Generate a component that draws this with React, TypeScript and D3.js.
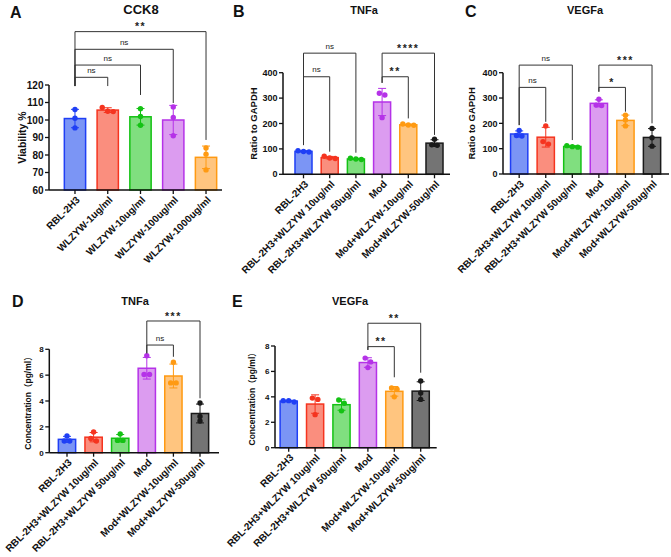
import * as d3 from "d3";

const FONT = "'Liberation Sans', Arial, 'Noto Sans CJK SC', sans-serif";

// group names
const cck8Groups = ["RBL-2H3", "WLZYW-1ug/ml", "WLZYW-10ug/ml", "WLZYW-100ug/ml", "WLZYW-1000ug/ml"];
const treatGroups = [
  "RBL-2H3",
  "RBL-2H3+WLZYW 10ug/ml",
  "RBL-2H3+WLZYW 50ug/ml",
  "Mod",
  "Mod+WLZYW-10ug/ml",
  "Mod+WLZYW-50ug/ml",
];

// replicates (n = 3) per group
const cck8Values = [[106, 101, 95.5], [105, 107.2, 104.8], [106.5, 102, 97], [107.5, 101.5, 91], [84, 80.5, 71.5]];
const tnfaRatio = [[88, 93, 90], [64, 71, 62], [60, 63, 58], [319, 312, 223], [198, 194, 193], [138, 116, 114]];
const vegfaRatio = [[172, 152, 150], [190, 118, 128], [112, 108, 106], [295, 272, 270], [232, 213, 190], [180, 143, 110]];
const tnfaConc = [[1.3, 0.9, 0.9], [1.6, 1.1, 0.9], [1.45, 0.95, 0.95], [7.5, 6.05, 6.05], [7.0, 5.4, 5.4], [3.85, 2.8, 2.45]];
const vegfaConc = [[3.6, 3.7, 3.7], [3.9, 3.8, 2.6], [3.75, 3.5, 2.9], [7.05, 6.75, 6.3], [4.7, 4.6, 4.0], [5.25, 4.3, 3.8]];

// significance brackets: groups a-b, level + leg ends in data units
type Bracket = { a: number; b: number; level: number; label: string; legA: number; legB: number };
const cck8Brackets: Bracket[] = [
  { a: 0, b: 1, level: 124.4, label: "ns", legA: 119.4, legB: 119.4 },
  { a: 0, b: 2, level: 131.4, label: "ns", legA: 119.4, legB: 114.3 },
  { a: 0, b: 3, level: 140.4, label: "ns", legA: 119.4, legB: 109.7 },
  { a: 0, b: 4, level: 150.5, label: "**", legA: 119.4, legB: 88.6 },
];
const tnfaRatioBrackets: Bracket[] = [
  { a: 0, b: 1, level: 384, label: "ns", legA: 115, legB: 89 },
  { a: 0, b: 2, level: 477, label: "ns", legA: 115, legB: 85 },
  { a: 3, b: 4, level: 384, label: "**", legA: 360, legB: 220 },
  { a: 3, b: 5, level: 477, label: "****", legA: 360, legB: 155 },
];
const vegfaRatioBrackets: Bracket[] = [
  { a: 0, b: 1, level: 342, label: "ns", legA: 193, legB: 206 },
  { a: 0, b: 2, level: 430, label: "ns", legA: 193, legB: 134 },
  { a: 3, b: 4, level: 342, label: "*", legA: 325, legB: 246 },
  { a: 3, b: 5, level: 430, label: "***", legA: 325, legB: 200 },
];
const tnfaConcBrackets: Bracket[] = [
  { a: 3, b: 4, level: 8.33, label: "ns", legA: 7.69, legB: 7.42 },
  { a: 3, b: 5, level: 10.19, label: "***", legA: 7.69, legB: 4.21 },
];
const vegfaConcBrackets: Bracket[] = [
  { a: 3, b: 4, level: 7.95, label: "**", legA: 7.69, legB: 5.54 },
  { a: 3, b: 5, level: 9.79, label: "**", legA: 7.69, legB: 5.9 },
];

const strokeColors = ["#1f3ff5", "#f5341f", "#14c214", "#b532e8", "#ff9a12", "#1a1a1a"];
const fillColors = ["#7b95f5", "#fa8e7e", "#80df7f", "#dc9cf0", "#ffc57f", "#747474"];

type PanelCfg = {
  letter: string; letterX: number; letterY: number;
  title: string; titleX: number; titleY: number; titleSize: number;
  x0: number; x1: number; bandStart: number; bandEnd: number;
  yTop: number; yBottom: number; domain: [number, number]; tickCount: number;
  yLabel: string; yLabelOffset: number; yLabelSize: number; tickSize: number;
  groups: string[]; values: number[][]; brackets: Bracket[];
};

const panels: PanelCfg[] = [
  {
    letter: "A", letterX: 10, letterY: 18, title: "CCK8", titleX: 141, titleY: 13.5, titleSize: 13,
    x0: 49, x1: 222, bandStart: 58.6, bandEnd: 222.4, yTop: 85, yBottom: 190, domain: [60, 120], tickCount: 6,
    yLabel: "Viability %", yLabelOffset: 27, yLabelSize: 10.5, tickSize: 10,
    groups: cck8Groups, values: cck8Values, brackets: cck8Brackets,
  },
  {
    letter: "B", letterX: 233, letterY: 17, title: "TNFa", titleX: 364, titleY: 14, titleSize: 11,
    x0: 283, x1: 450, bandStart: 290.4, bandEnd: 447.6, yTop: 72.7, yBottom: 174.3, domain: [0, 400], tickCount: 4,
    yLabel: "Ratio to GAPDH", yLabelOffset: 29.7, yLabelSize: 9.5, tickSize: 9,
    groups: treatGroups, values: tnfaRatio, brackets: tnfaRatioBrackets,
  },
  {
    letter: "C", letterX: 465, letterY: 17, title: "VEGFa", titleX: 585, titleY: 14, titleSize: 11,
    x0: 503, x1: 669, bandStart: 505.9, bandEnd: 665.3, yTop: 72.7, yBottom: 174, domain: [0, 400], tickCount: 4,
    yLabel: "Ratio to GAPDH", yLabelOffset: 31.3, yLabelSize: 9.5, tickSize: 9,
    groups: treatGroups, values: vegfaRatio, brackets: vegfaRatioBrackets,
  },
  {
    letter: "D", letterX: 12, letterY: 307, title: "TNFa", titleX: 135, titleY: 305, titleSize: 11,
    x0: 49.3, x1: 219, bandStart: 53.7, bandEnd: 213.3, yTop: 349.3, yBottom: 452.7, domain: [0, 8], tickCount: 4,
    yLabel: "Concentration（pg/ml）", yLabelOffset: 21, yLabelSize: 8.5, tickSize: 8,
    groups: treatGroups, values: tnfaConc, brackets: tnfaConcBrackets,
  },
  {
    letter: "E", letterX: 232, letterY: 307, title: "VEGFa", titleX: 350, titleY: 305, titleSize: 11,
    x0: 275, x1: 436.7, bandStart: 275.5, bandEnd: 433.9, yTop: 346, yBottom: 447.7, domain: [0, 8], tickCount: 4,
    yLabel: "Concentration（pg/ml）", yLabelOffset: 23.3, yLabelSize: 8.5, tickSize: 8,
    groups: treatGroups, values: vegfaConc, brackets: vegfaConcBrackets,
  },
];

// spread overlapping replicate dots sideways, prism style
function dotOffsets(py: number[]): number[] {
  const order = d3.range(py.length).sort((i, j) => py[i] - py[j]);
  const out = new Array(py.length).fill(0);
  let group: number[] = [];
  const flush = () => {
    group.forEach((idx, k) => { out[idx] = (k - (group.length - 1) / 2) * 5.5; });
    group = [];
  };
  order.forEach((idx) => {
    if (group.length && py[idx] - py[group[group.length - 1]] >= 4.5) flush();
    group.push(idx);
  });
  flush();
  return out;
}

function Panel({ p }: { p: PanelCfg }) {
  const y = d3.scaleLinear().domain(p.domain).range([p.yBottom, p.yTop]);
  const x = d3.scaleBand().domain(p.groups).range([p.bandStart, p.bandEnd]).paddingInner(0.35).paddingOuter(0.175);
  const bw = x.bandwidth();
  const cx = (i: number) => (x(p.groups[i]) as number) + bw / 2;
  const ticks = y.ticks(p.tickCount);
  const yMid = (p.yTop + p.yBottom) / 2;

  return (
    <g fontFamily={FONT}>
      <text x={p.letterX} y={p.letterY} fontSize={16} fontWeight="bold" fill="#111">{p.letter}</text>
      <text x={p.titleX} y={p.titleY} fontSize={p.titleSize} fontWeight="bold" textAnchor="middle" fill="#111">{p.title}</text>

      {/* bars, error bars, dots */}
      {p.values.map((vals, i) => {
        const mean = d3.mean(vals) as number;
        const sd = d3.deviation(vals) as number;
        const px = cx(i);
        const offs = dotOffsets(vals.map((v) => y(v)));
        return (
          <g key={i}>
            <rect x={x(p.groups[i])} y={y(mean)} width={bw} height={p.yBottom - y(mean)}
              fill={fillColors[i]} stroke={strokeColors[i]} strokeWidth={1.5} />
            <line x1={px} x2={px} y1={y(mean - sd)} y2={y(mean + sd)} stroke={strokeColors[i]} strokeWidth={1} />
            <line x1={px - 4} x2={px + 4} y1={y(mean + sd)} y2={y(mean + sd)} stroke={strokeColors[i]} strokeWidth={1} />
            <line x1={px - 4} x2={px + 4} y1={y(mean - sd)} y2={y(mean - sd)} stroke={strokeColors[i]} strokeWidth={1} />
            {vals.map((v, k) => (
              <circle key={k} cx={px + offs[k]} cy={y(v)} r={2.7} fill={strokeColors[i]} />
            ))}
          </g>
        );
      })}

      {/* y axis */}
      <line x1={p.x0} x2={p.x0} y1={p.yTop} y2={p.yBottom} stroke="#111" strokeWidth={1.5} />
      {ticks.map((t) => (
        <g key={t}>
          <line x1={p.x0 - 4} x2={p.x0} y1={y(t)} y2={y(t)} stroke="#111" strokeWidth={1.3} />
          <text x={p.x0 - 5.5} y={y(t)} dy="0.35em" textAnchor="end" fontSize={p.tickSize} fontWeight="bold" fill="#111">{t}</text>
        </g>
      ))}
      <text transform={`translate(${p.x0 - p.yLabelOffset},${yMid}) rotate(-90)`} dy="0.35em" textAnchor="middle"
        fontSize={p.yLabelSize} fontWeight="bold" fill="#111">{p.yLabel}</text>

      {/* x axis */}
      <line x1={p.x0} x2={p.x1} y1={p.yBottom} y2={p.yBottom} stroke="#111" strokeWidth={1.5} />
      {p.groups.map((g, i) => (
        <g key={g}>
          <line x1={cx(i)} x2={cx(i)} y1={p.yBottom} y2={p.yBottom + 4} stroke="#111" strokeWidth={1.3} />
          <text transform={`translate(${cx(i) + 3},${p.yBottom + 8}) rotate(-45)`} dy="0.35em" textAnchor="end"
            fontSize={10} fontWeight="bold" fill="#111">{g}</text>
        </g>
      ))}

      {/* significance brackets */}
      {p.brackets.map((b, k) => {
        const xa = cx(b.a), xb = cx(b.b), ly = y(b.level);
        const star = b.label !== "ns";
        return (
          <g key={k}>
            <path d={`M${xa},${y(b.legA)}V${ly}H${xb}V${y(b.legB)}`} fill="none" stroke="#333" strokeWidth={1} />
            <text x={(xa + xb) / 2} y={star ? ly - 1.3 : ly - 4.5} textAnchor="middle"
              fontSize={star ? 10.5 : 8} fontWeight={star ? "bold" : "normal"}
              letterSpacing={star ? 1.5 : 0} fill="#222">{b.label}</text>
          </g>
        );
      })}
    </g>
  );
}

export default function App() {
  return (
    <svg width={671} height={557} style={{ position: "absolute", left: 0, top: 0, background: "#fff" }}>
      <rect width={671} height={557} fill="#fff" />
      {panels.map((p) => <Panel key={p.letter} p={p} />)}
    </svg>
  );
}
